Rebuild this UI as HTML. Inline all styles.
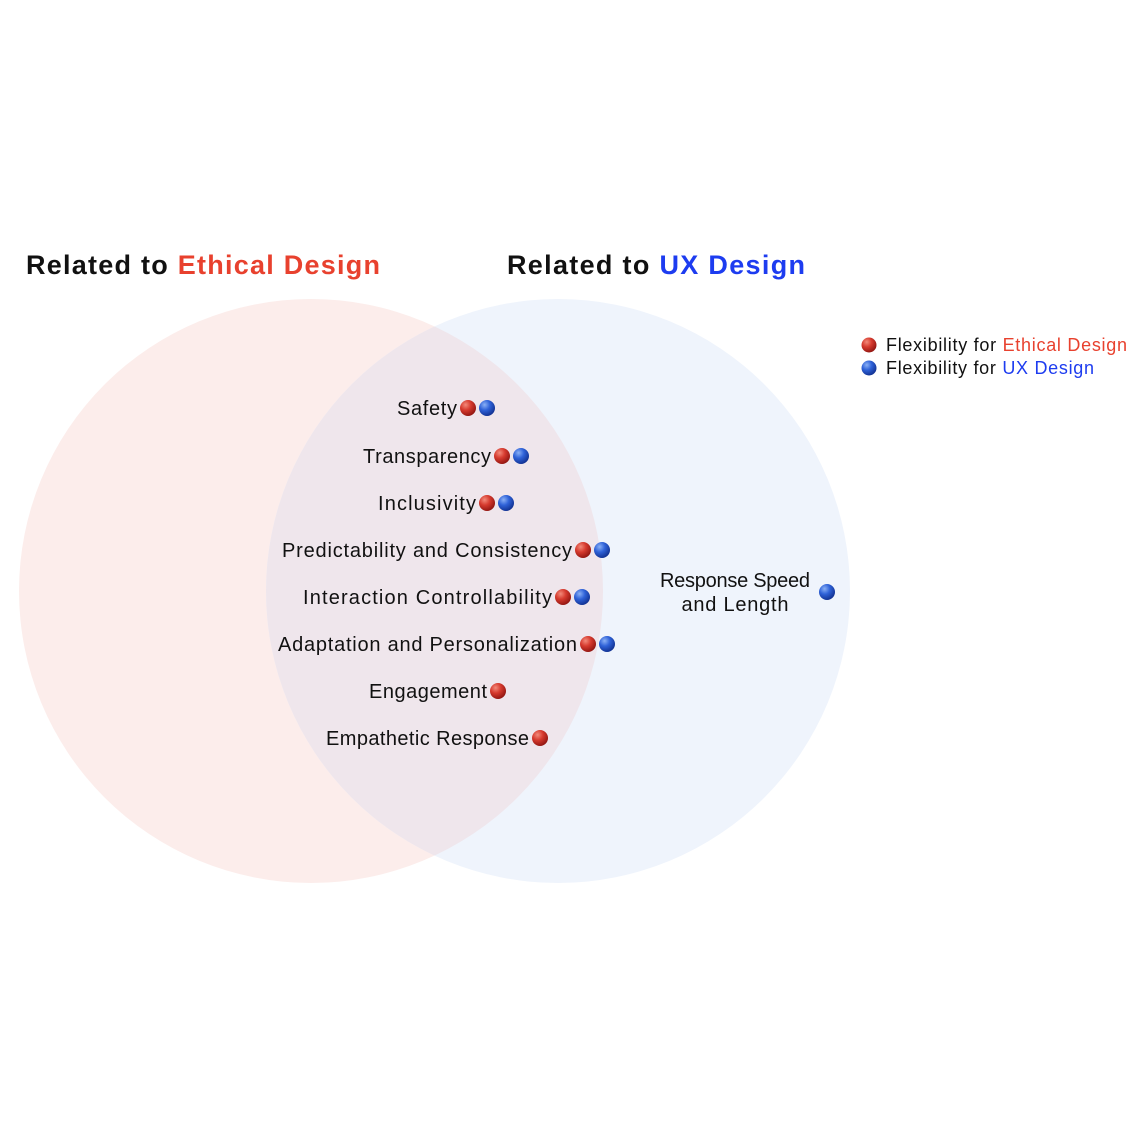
<!DOCTYPE html>
<html><head><meta charset="utf-8"><style>
html,body{margin:0;padding:0;background:#fff;}
svg{display:block;}
text{font-family:"Liberation Sans","DejaVu Sans",sans-serif;fill:#111;}
</style></head><body>
<svg width="1140" height="1140" viewBox="0 0 1140 1140" xmlns="http://www.w3.org/2000/svg">
<defs>
<radialGradient id="rg" cx="0.35" cy="0.3" r="0.75"><stop offset="0" stop-color="#f28a7a"/><stop offset="0.45" stop-color="#d63a2e"/><stop offset="1" stop-color="#8e1410"/></radialGradient>
<radialGradient id="bg" cx="0.35" cy="0.3" r="0.75"><stop offset="0" stop-color="#8ab0f5"/><stop offset="0.45" stop-color="#2f62d8"/><stop offset="1" stop-color="#102f8e"/></radialGradient>
<clipPath id="cl"><circle cx="311" cy="591" r="292"/></clipPath>
</defs>
<circle cx="311" cy="591" r="292" fill="#fcedeb"/>
<circle cx="558" cy="591" r="292" fill="#eff4fc"/>
<circle cx="558" cy="591" r="292" fill="#efe6ec" clip-path="url(#cl)"/>

<text x="26" y="274" font-size="27" font-weight="bold" textLength="354">Related to <tspan style="fill:#e8412e">Ethical Design</tspan></text>
<text x="507" y="274" font-size="27" font-weight="bold" textLength="298">Related to <tspan style="fill:#1d3cf0">UX Design</tspan></text>

<circle cx="869" cy="345" r="7.5" fill="url(#rg)"/>
<circle cx="869" cy="368" r="7.5" fill="url(#bg)"/>
<text x="886" y="351" font-size="18" textLength="241">Flexibility for <tspan style="fill:#e8412e">Ethical Design</tspan></text>
<text x="886" y="374" font-size="18" textLength="208">Flexibility for <tspan style="fill:#1d3cf0">UX Design</tspan></text>

<g font-size="20" text-anchor="end">
<text x="457" y="415" textLength="60">Safety</text>
<text x="491" y="463" textLength="128">Transparency</text>
<text x="476" y="510" textLength="98">Inclusivity</text>
<text x="572" y="557" textLength="290">Predictability and Consistency</text>
<text x="552" y="604" textLength="249">Interaction Controllability</text>
<text x="577" y="651" textLength="299">Adaptation and Personalization</text>
<text x="487" y="698" textLength="118">Engagement</text>
<text x="529" y="745" textLength="203">Empathetic Response</text>
</g>
<g font-size="20" text-anchor="middle">
<text x="735" y="587" textLength="150">Response Speed</text>
<text x="735" y="611" textLength="107">and Length</text>
</g>

<g>
<circle cx="468" cy="408" r="8" fill="url(#rg)"/><circle cx="487" cy="408" r="8" fill="url(#bg)"/>
<circle cx="502" cy="456" r="8" fill="url(#rg)"/><circle cx="521" cy="456" r="8" fill="url(#bg)"/>
<circle cx="487" cy="503" r="8" fill="url(#rg)"/><circle cx="506" cy="503" r="8" fill="url(#bg)"/>
<circle cx="583" cy="550" r="8" fill="url(#rg)"/><circle cx="602" cy="550" r="8" fill="url(#bg)"/>
<circle cx="563" cy="597" r="8" fill="url(#rg)"/><circle cx="582" cy="597" r="8" fill="url(#bg)"/>
<circle cx="588" cy="644" r="8" fill="url(#rg)"/><circle cx="607" cy="644" r="8" fill="url(#bg)"/>
<circle cx="498" cy="691" r="8" fill="url(#rg)"/>
<circle cx="540" cy="738" r="8" fill="url(#rg)"/>
<circle cx="827" cy="592" r="8" fill="url(#bg)"/>
</g>
</svg>
</body></html>
